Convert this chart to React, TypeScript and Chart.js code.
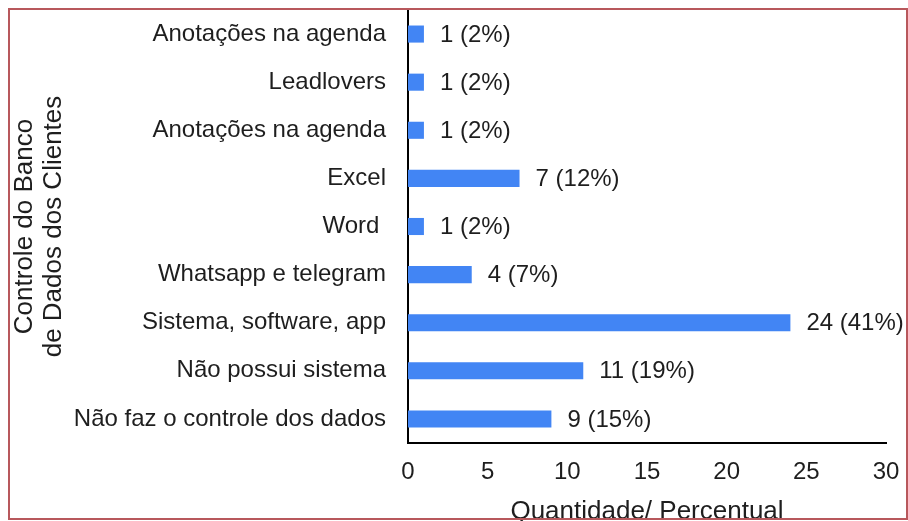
import React, { useEffect, useRef } from "react";
import { Chart, registerables } from "chart.js";

Chart.register(...registerables);

const categories = [
  "Anotações na agenda",
  "Leadlovers",
  "Anotações na agenda",
  "Excel",
  "Word ",
  "Whatsapp e telegram",
  "Sistema, software, app",
  "Não possui sistema",
  "Não faz o controle dos dados",
];
const quantities = [1, 1, 1, 7, 1, 4, 24, 11, 9];
const percents = [2, 2, 2, 12, 2, 7, 41, 19, 15];
const xTitle = "Quantidade/ Percentual";
const yTitle = ["Controle do Banco", "de Dados dos Clientes"];

const FONT = "'Liberation Sans', Arial, sans-serif";

export default function App() {
  const ref = useRef<HTMLCanvasElement | null>(null);
  useEffect(() => {
    if (!ref.current) return;
    const labelPlugin = {
      id: "valueLabels",
      afterDatasetsDraw(chart: any) {
        const ctx = chart.ctx;
        const meta = chart.getDatasetMeta(0);
        ctx.save();
        ctx.font = `24px ${FONT}`;
        ctx.fillStyle = "#1e1e1e";
        ctx.textAlign = "left";
        ctx.textBaseline = "middle";
        meta.data.forEach((el: any, i: number) => {
          ctx.fillText(`${quantities[i]} (${percents[i]}%)`, el.x + 16, el.y + 1);
        });
        ctx.restore();
      },
    };
    const borderPlugin = {
      id: "frame",
      afterDraw(chart: any) {
        const ctx = chart.ctx;
        ctx.save();
        ctx.strokeStyle = "#b8585c";
        ctx.lineWidth = 2;
        ctx.strokeRect(9, 9, 898, 510);
        ctx.restore();
      },
    };
    const chart = new Chart(ref.current, {
      type: "bar",
      data: {
        labels: categories,
        datasets: [
          {
            data: quantities,
            backgroundColor: "#4285F4",
            borderWidth: 0,
            categoryPercentage: 1,
            barPercentage: 0.355,
          },
        ],
      },
      options: {
        indexAxis: "y",
        responsive: false,
        animation: false,
        layout: { padding: { top: 10, right: 22, left: 0, bottom: 0 } },
        plugins: {
          legend: { display: false },
          tooltip: { enabled: false },
        },
        scales: {
          x: {
            min: 0,
            max: 30,
            ticks: {
              stepSize: 5,
              padding: 15,
              color: "#1e1e1e",
              font: { family: FONT, size: 24 },
            },
            grid: { display: false, drawTicks: false },
            border: { display: true, color: "#000", width: 2 },
            title: {
              display: true,
              text: xTitle,
              color: "#1e1e1e",
              font: { family: FONT, size: 26, lineHeight: 1.1 },
              padding: { top: 0, bottom: -5 },
            },
            afterFit(scale: any) {
              scale.height = 78;
              scale.paddingLeft = 0;
              scale.paddingRight = 0;
              scale.paddingTop = 0;
              scale.paddingBottom = 0;
            },
          },
          y: {
            ticks: {
              padding: 22,
              color: "#1e1e1e",
              font: { family: FONT, size: 24 },
              autoSkip: false,
            },
            grid: { display: false, drawTicks: false },
            border: { display: true, color: "#000", width: 2 },
            title: {
              display: true,
              text: yTitle,
              color: "#1e1e1e",
              font: { family: FONT, size: 26, lineHeight: 1.1 },
              padding: { top: 11, bottom: 0 },
            },
            afterFit(scale: any) {
              scale.width = 408;
              scale.paddingLeft = 0;
              scale.paddingRight = 0;
              scale.paddingTop = 0;
              scale.paddingBottom = 0;
            },
          },
        },
      },
      plugins: [labelPlugin, borderPlugin],
    });
    return () => chart.destroy();
  }, []);
  return (
    <div style={{ position: "absolute", left: 0, top: 0, width: 908, height: 521, background: "#fff" }}>
      <canvas ref={ref} width={908} height={521} style={{ width: 908, height: 521, display: "block" }} />
    </div>
  );
}
